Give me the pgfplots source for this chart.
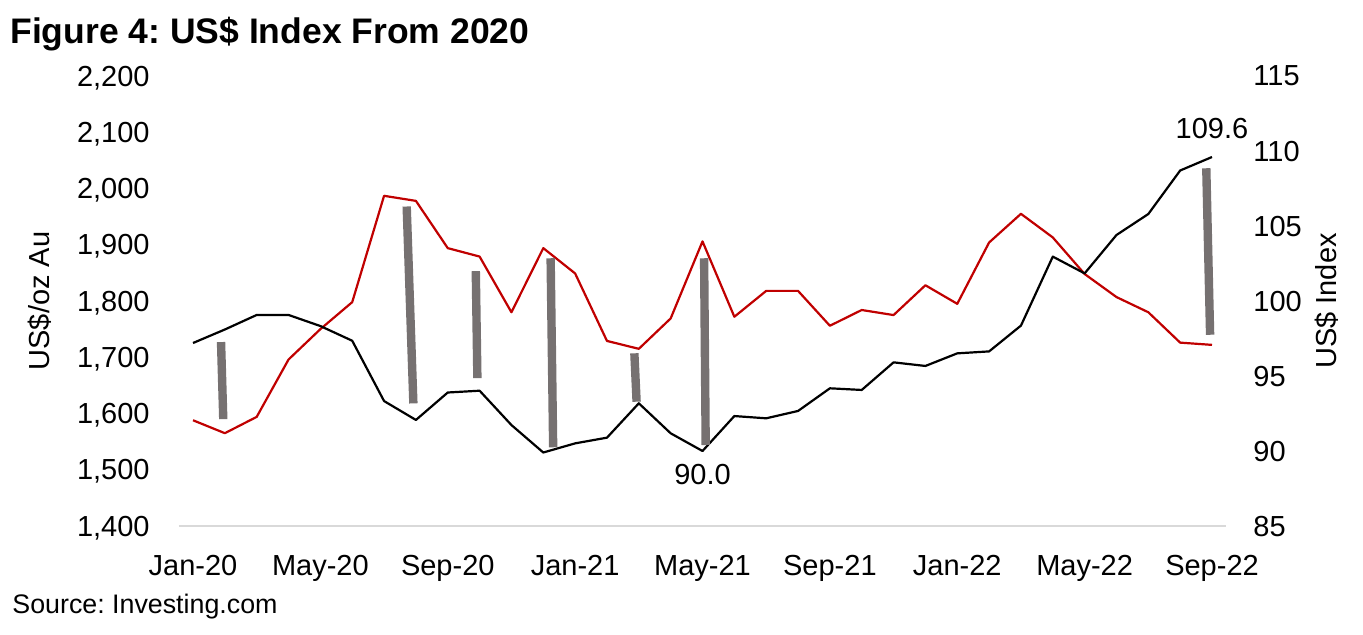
\documentclass[border=0pt]{standalone}
\usepackage{fontspec}
\setmainfont{Liberation Sans}
\usepackage{pgfplots}
\pgfplotsset{compat=1.18}
\usepackage{pgfplotstable}
\definecolor{goldred}{HTML}{C00000}
\definecolor{bargrey}{HTML}{767171}
\definecolor{axisgrey}{HTML}{D9D9D9}
\frenchspacing

\pgfplotstableread{
x gold usd
0 1588 97.2
1 1565 98.1
2 1594 99.07
3 1696 99.07
4 1750 98.33
5 1798 97.35
6 1987 93.33
7 1978 92.07
8 1894 93.9
9 1879 94.02
10 1780 91.73
11 1894 89.9
12 1849 90.51
13 1729 90.89
14 1715 93.18
15 1769 91.18
16 1906 90.0
17 1772 92.33
18 1818 92.18
19 1818 92.67
20 1756 94.18
21 1784 94.07
22 1775 95.91
23 1828 95.67
24 1795 96.51
25 1904 96.64
26 1955 98.36
27 1913 102.96
28 1848 101.84
29 1807 104.4
30 1780 105.8
31 1726 108.7
32 1722 109.6
}\datatable

\begin{document}
\frenchspacing
\begin{tikzpicture}[font=\fontsize{14.5}{17}\selectfont]
\useasboundingbox (0,0) rectangle (681.5pt,317pt);
\begin{axis}[
  at={(89.5pt,54pt)}, anchor=south west,
  scale only axis, width=523.5pt, height=225pt,
  xmin=-0.44, xmax=32.44,
  ymin=1400, ymax=2200,
  ytick={1400,1500,...,2200},
  xtick={0,4,...,32},
  xticklabels={Jan-20,May-20,Sep-20,Jan-21,May-21,Sep-21,Jan-22,May-22,Sep-22},
  axis lines*=left,
  y axis line style={draw=none},
  x axis line style={draw=axisgrey, line width=1pt},
  major tick length=0pt,
  xticklabel style={anchor=base, yshift=-24.5pt, inner sep=0pt},
  yticklabel style={anchor=east, xshift=-14.5pt, inner sep=0pt, text depth=0pt,
    /pgf/number format/.cd, 1000 sep={,}, assume math mode=true},
  ylabel={US\$/oz Au},
  ylabel style={at={(axis description cs:-0.1328,0.5)}, anchor=center, inner sep=0pt},
  clip=false,
]
\addplot[goldred, line width=1.1pt, line join=round] table[x=x, y=gold] {\datatable};
\end{axis}
\begin{axis}[
  at={(89.5pt,54pt)}, anchor=south west,
  scale only axis, width=523.5pt, height=225pt,
  xmin=-0.44, xmax=32.44,
  ymin=85, ymax=115,
  ytick={85,90,...,115},
  axis x line=none,
  axis y line*=right,
  y axis line style={draw=none},
  major tick length=0pt,
  yticklabel style={anchor=west, xshift=13.5pt, inner sep=0pt, text depth=0pt,
    /pgf/number format/assume math mode=true},
  ylabel={US\$ Index},
  ylabel style={at={(axis description cs:1.0965,0.5)}, anchor=center, inner sep=0pt},
  clip=false,
]
\addplot[black, line width=1.1pt, line join=round] table[x=x, y=usd] {\datatable};
\node[inner sep=0pt, yshift=-12pt] at (axis cs:16,90) {90.0};
\node[inner sep=0pt, yshift=14pt] at (axis cs:32,109.6) {109.6};
\end{axis}
\begin{axis}[
  at={(89.5pt,54pt)}, anchor=south west,
  scale only axis, width=523.5pt, height=225pt,
  xmin=-0.44, xmax=32.44,
  ymin=1400, ymax=2200,
  hide axis,
]
\addplot[bargrey, line width=4.2pt] coordinates {(0.88,1727) (0.95,1590)};
\addplot[bargrey, line width=4.2pt] coordinates {(6.71,1968) (6.92,1618)};
\addplot[bargrey, line width=4.2pt] coordinates {(8.88,1853) (8.93,1663)};
\addplot[bargrey, line width=4.2pt] coordinates {(11.23,1876) (11.31,1540)};
\addplot[bargrey, line width=4.2pt] coordinates {(13.86,1707) (13.93,1621)};
\addplot[bargrey, line width=4.2pt] coordinates {(16.05,1876) (16.10,1544)};
\addplot[bargrey, line width=4.2pt] coordinates {(31.82,2036) (31.94,1740)};
\end{axis}
\node[anchor=base west, inner sep=0pt, font=\bfseries\fontsize{17.75}{21}\selectfont] at (5pt,295.3pt) {Figure 4: US\$ Index From 2020};
\node[anchor=base west, inner sep=0pt, font=\fontsize{13.4}{16}\selectfont] at (6pt,10.5pt) {Source: Investing.com};
\end{tikzpicture}
\end{document}
